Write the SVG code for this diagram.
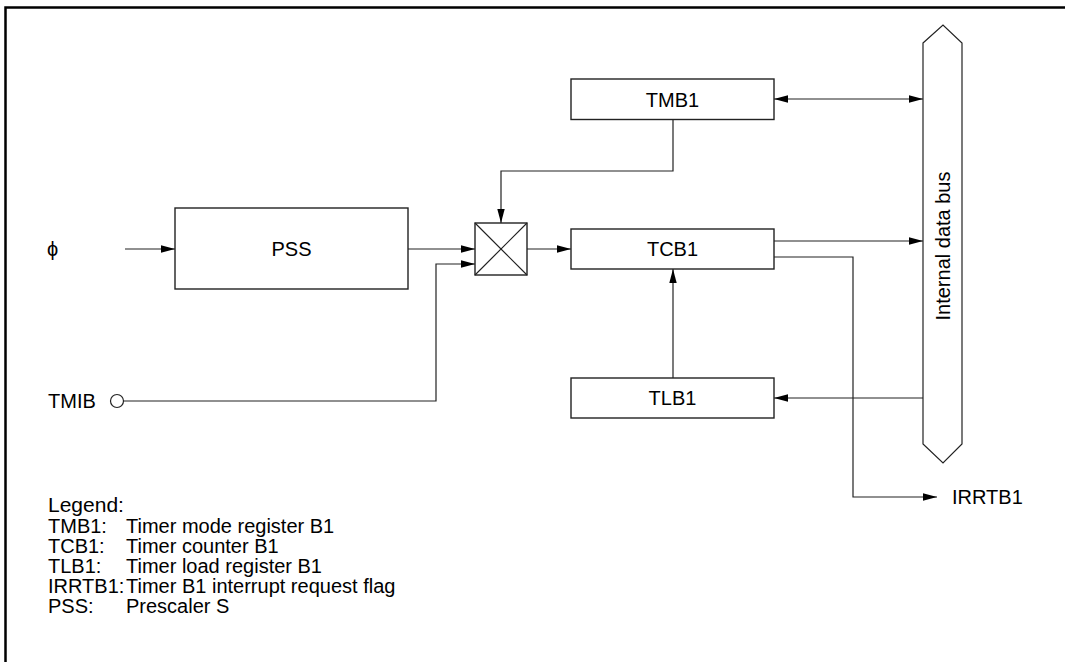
<svg xmlns="http://www.w3.org/2000/svg" width="1065" height="662" viewBox="0 0 1065 662">
<style>
text{font-family:"Liberation Sans",Arial,sans-serif;fill:#000}
.lbl{font-size:20px;text-anchor:middle}
.lg{font-size:20px}
.box{fill:#fff;stroke:#222;stroke-width:1.4}
.ln{fill:none;stroke:#222;stroke-width:1.2}
</style>
<defs>
<marker id="ah" markerUnits="userSpaceOnUse" markerWidth="15" markerHeight="8" refX="14" refY="4" orient="auto">
<path d="M0,0.3 L14,4 L0,7.7 z" fill="#000"/>
</marker>
<marker id="as" markerUnits="userSpaceOnUse" markerWidth="15" markerHeight="8" refX="0" refY="4" orient="auto">
<path d="M14,0.3 L0,4 L14,7.7 z" fill="#000"/>
</marker>
</defs>
<path d="M5.5,662 V7.5 H1065" fill="none" stroke="#000" stroke-width="2.5"/>
<g id="connectors">
<line class="ln" x1="125" y1="249" x2="175" y2="249" marker-end="url(#ah)"/>
<line class="ln" x1="408" y1="249" x2="475" y2="249" marker-end="url(#ah)"/>
<polyline class="ln" points="124,401 436,401 436,264 475,264" marker-end="url(#ah)"/>
<line class="ln" x1="527" y1="249" x2="571" y2="249" marker-end="url(#ah)"/>
<polyline class="ln" points="673,120 673,171 501,171 501,223" marker-end="url(#ah)"/>
<line class="ln" x1="774" y1="99" x2="923" y2="99" marker-start="url(#as)" marker-end="url(#ah)"/>
<line class="ln" x1="774" y1="241" x2="923" y2="241" marker-end="url(#ah)"/>
<polyline class="ln" points="774,257 853,257 853,497 937,497" marker-end="url(#ah)"/>
<line class="ln" x1="673" y1="378" x2="673" y2="269" marker-end="url(#ah)"/>
<line class="ln" x1="923" y1="398" x2="774" y2="398" marker-end="url(#ah)"/>
</g>
<g id="phi"><text x="47" y="256" style="font-size:20px">ϕ</text></g>
<g id="tmib">
<text x="48" y="408" class="lg">TMIB</text>
<circle cx="117" cy="401" r="6.5" fill="#fff" stroke="#222" stroke-width="1.2"/>
</g>
<g id="pss"><rect class="box" x="175" y="208" width="233" height="81"/><text class="lbl" x="291.5" y="256">PSS</text></g>
<g id="mux"><rect class="box" x="475" y="223" width="52" height="52"/><path class="ln" d="M475,223 L527,275 M527,223 L475,275"/></g>
<g id="tmb1"><rect class="box" x="571" y="79" width="203" height="40.5"/><text class="lbl" x="672.5" y="106.5">TMB1</text></g>
<g id="tcb1"><rect class="box" x="571" y="229" width="203" height="40"/><text class="lbl" x="672.5" y="256">TCB1</text></g>
<g id="tlb1"><rect class="box" x="571" y="378" width="203" height="40"/><text class="lbl" x="672.5" y="405">TLB1</text></g>
<g id="bus">
<polygon points="923,43 943,25 962,43 962,444 943,463 923,444" fill="#fff" stroke="#222" stroke-width="1.2"/>
<text class="lbl" transform="translate(950,246) rotate(-90)" x="0" y="0">Internal data bus</text>
</g>
<g id="irrtb1"><text x="952" y="504" class="lg">IRRTB1</text></g>
<g id="legend">
<text x="48" y="512" style="font-size:21px">Legend:</text>
<text x="48" y="533" class="lg">TMB1:</text><text x="126" y="533" class="lg">Timer mode register B1</text>
<text x="48" y="553" class="lg">TCB1:</text><text x="126" y="553" class="lg">Timer counter B1</text>
<text x="48" y="573" class="lg">TLB1:</text><text x="126" y="573" class="lg">Timer load register B1</text>
<text x="48" y="593" class="lg">IRRTB1:</text><text x="126" y="593" class="lg">Timer B1 interrupt request flag</text>
<text x="48" y="613" class="lg">PSS:</text><text x="126" y="613" class="lg">Prescaler S</text>
</g>
</svg>
